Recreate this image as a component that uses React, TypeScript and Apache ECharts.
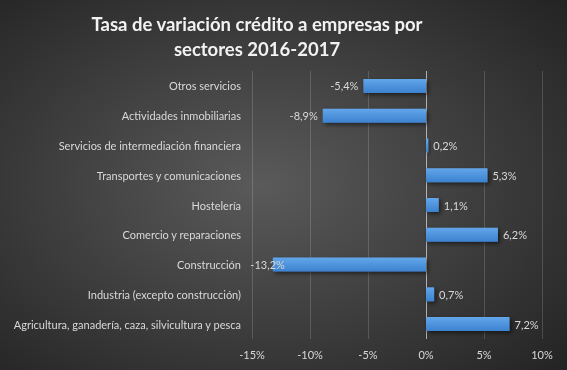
import React, { useEffect, useRef } from "react";
import * as echarts from "echarts";

const categories = [
  "Agricultura, ganadería, caza, silvicultura y pesca",
  "Industria (excepto construcción)",
  "Construcción",
  "Comercio y reparaciones",
  "Hostelería",
  "Transportes y comunicaciones",
  "Servicios de intermediación financiera",
  "Actividades inmobiliarias",
  "Otros servicios",
];
const values = [7.2, 0.7, -13.2, 6.2, 1.1, 5.3, 0.2, -8.9, -5.4];
const xTicks = { min: -15, max: 10, interval: 5 };
const titleLines = ["Tasa de variación crédito a empresas por", "sectores 2016-2017"];

export default function App() {
  const ref = useRef<HTMLDivElement>(null);
  useEffect(() => {
    if (!ref.current) return;
    const chart = echarts.init(ref.current, undefined, { renderer: "svg" });
    const fmt = (v: number) => v.toFixed(1).replace(".", ",") + "%";
    chart.setOption({
      animation: false,
      backgroundColor: new echarts.graphic.RadialGradient(0.46, 0.5, 0.75, [
        { offset: 0, color: "#5a5a5a" },
        { offset: 1, color: "#222222" },
      ]),
      title: {
        text: titleLines.join("\n"),
        left: 252,
        top: 6,
        textAlign: "center",
        textStyle: {
          color: "#f2f2f2",
          fontFamily: "Lato",
          fontWeight: "bold",
          fontSize: 18.5,
          lineHeight: 25,
        },
      },
      grid: { left: 252, right: 25, top: 71, bottom: 31, containLabel: false },
      xAxis: {
        type: "value",
        min: xTicks.min,
        max: xTicks.max,
        interval: xTicks.interval,
        axisLine: { show: false },
        axisTick: { show: false },
        axisLabel: {
          color: "#d9d9d9",
          fontFamily: "Lato",
          fontSize: 11,
          margin: 10,
          formatter: (v: number) => `${v}%`,
        },
        splitLine: {
          show: true,
          lineStyle: {
            width: 1,
            color: [
              "rgba(255,255,255,0.16)",
              "rgba(255,255,255,0.16)",
              "rgba(255,255,255,0.16)",
              "rgba(255,255,255,0.6)",
              "rgba(255,255,255,0.16)",
              "rgba(255,255,255,0.16)",
            ],
          },
        },
      },
      yAxis: {
        type: "category",
        data: categories,
        axisLine: { show: false, onZero: false },
        axisTick: { show: false },
        splitLine: { show: false },
        axisLabel: {
          color: "#d9d9d9",
          fontFamily: "Lato",
          fontSize: 11,
          margin: 11,
        },
      },
      series: [
        {
          type: "bar",
          barWidth: 14,
          data: values.map((v) => ({
            value: v,
            label:
              v < -12
                ? { position: "left", offset: [17, 0] }
                : { position: v < 0 ? "left" : "right" },
          })),
          itemStyle: {
            color: new echarts.graphic.LinearGradient(0, 0, 0, 1, [
              { offset: 0, color: "#63a6ea" },
              { offset: 1, color: "#3c82cf" },
            ]),
            shadowColor: "rgba(0,0,0,0.55)",
            shadowBlur: 4,
            shadowOffsetX: 2,
            shadowOffsetY: 2,
          },
          label: {
            show: true,
            color: "#d9d9d9",
            fontFamily: "Lato",
            fontSize: 11,
            distance: 5,
            formatter: (p: any) => fmt(p.value),
          },
        },
      ],
    });
    return () => chart.dispose();
  }, []);
  return (
    <div
      ref={ref}
      style={{ position: "fixed", left: 0, top: 0, width: 567, height: 370 }}
    />
  );
}
